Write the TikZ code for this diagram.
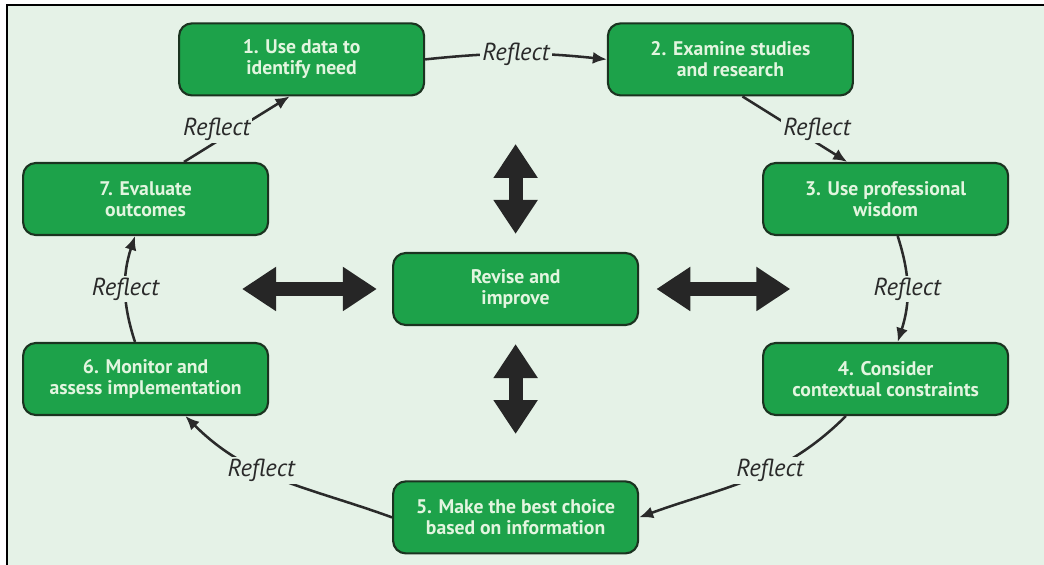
\documentclass[tikz,border=0pt]{standalone}
\usepackage{fontspec}
\setsansfont{PT Sans}
\usepackage{xcolor}
\definecolor{fond}{HTML}{E5F2E7}
\definecolor{vert}{HTML}{1DA24A}
\definecolor{vertfonce}{HTML}{1B3320}
\definecolor{menthe}{HTML}{E2F5DF}
\definecolor{encre}{HTML}{2A2A2A}
\usetikzlibrary{positioning,arrows.meta}

\begin{document}
\begin{tikzpicture}[font=\sffamily,
  etape/.style={draw=vertfonce,line width=1.5pt,fill=vert,rounded corners=9pt,
    minimum width=6.125cm,minimum height=1.8cm,align=center,text=menthe,
    font=\sffamily\bfseries\fontsize{14}{14.8}\selectfont},
  fleche/.style={encre,line width=1.8pt,-{Latex[length=3.5mm,width=3mm]}},
  reflet/.style={fill=fond,inner sep=1.5pt,text=encre,
    font=\sffamily\itshape\fontsize{17.5}{19}\selectfont},
  bloc/.style={black!85,line width=0.35cm,
    {Triangle[width=1.05cm,length=0.85cm]}-{Triangle[width=1.05cm,length=0.85cm]}}]
% fond et cadre
\useasboundingbox (0,0) rectangle (26.1,14.125);
\fill[fond] (0.175,0) rectangle (26.1,14.0);
\draw[line width=2.1pt] (0.175,0) -- (0.175,14.0) -- (26.1,14.0);
% les sept etapes du cycle
\node[etape] (e1) at (7.54,12.64) {1. Use data to\\identify need};
\node[etape] (e2) at (18.26,12.64) {2. Examine studies\\and research};
\node[etape] (e3) at (22.14,9.15) {3. Use professional\\wisdom};
\node[etape] (e4) at (22.14,4.65) {4. Consider\\contextual constraints};
\node[etape] (e5) at (12.89,1.19) {5. Make the best choice\\based on information};
\node[etape] (e6) at (3.64,4.65) {6. Monitor and\\assess implementation};
\node[etape] (e7) at (3.64,9.15) {7. Evaluate\\outcomes};
% au centre
\node[etape] (rev) at (12.89,6.9) {Revise and\\improve};
% liens entre les etapes
\draw[fleche] (e1.east) to[bend left=6] node[reflet]{Reflect} (e2.west);
\draw[fleche] (e2.-72) -- node[reflet,xshift=0.55cm]{Reflect} (e3.136);
\draw[fleche] (e3.-72) to[bend left=18] node[reflet]{Reflect} (e4.72);
\draw[fleche] (e4.-137) to[out=-135,in=20] node[reflet,pos=0.4]{Reflect} (e5.east);
\draw[fleche] (e5.west) to[out=160,in=-45] node[reflet,pos=0.6]{Reflect} (e6.-43);
\draw[fleche] (e6.106) to[bend left=18] node[reflet]{Reflect} (e7.-106);
\draw[fleche] (e7.44) -- node[reflet,xshift=-0.5cm]{Reflect} (e1.-108);
% fleches doubles autour du centre
\coordinate[above=0.45cm of rev.north] (hautA);
\coordinate[above=2.7cm of rev.north] (hautB);
\coordinate[below=0.45cm of rev.south] (basA);
\coordinate[below=2.7cm of rev.south] (basB);
\coordinate[left=0.38cm of rev.west] (gaucheA);
\coordinate[left=3.75cm of rev.west] (gaucheB);
\coordinate[right=0.43cm of rev.east] (droiteA);
\coordinate[right=3.78cm of rev.east] (droiteB);
\draw[bloc] (hautA) -- (hautB);
\draw[bloc] (basA) -- (basB);
\draw[bloc] (gaucheA) -- (gaucheB);
\draw[bloc] (droiteA) -- (droiteB);
\end{tikzpicture}
\end{document}
